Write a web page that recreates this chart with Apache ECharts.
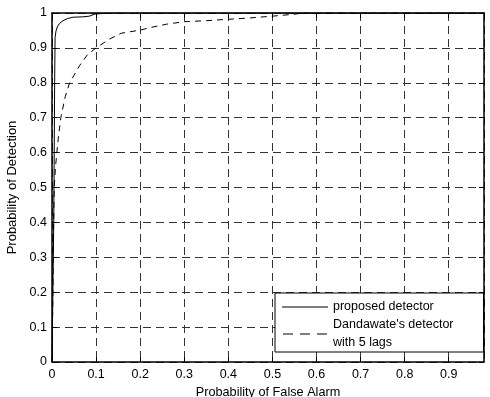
<!DOCTYPE html>
<html>
<head>
<meta charset="utf-8">
<script src="https://cdn.jsdelivr.net/npm/echarts@6/dist/echarts.min.js"></script>
<style>html,body{margin:0;padding:0;background:#fff;}#c{width:490px;height:397px;}</style>
</head>
<body>
<div id="c"></div>
<script>
var proposedPfa = [0, 0.001, 0.002, 0.004, 0.005, 0.006, 0.007, 0.009, 0.012, 0.017, 0.025, 0.035, 0.048, 0.07, 0.085, 0.097, 0.12, 0.15, 0.98];
var proposedPd  = [0, 0.1, 0.2, 0.4, 0.6, 0.8, 0.93, 0.948, 0.96, 0.97, 0.978, 0.984, 0.988, 0.989, 0.991, 0.997, 0.999, 1, 1];
var dandawatePfa = [0, 0.001, 0.002, 0.003, 0.005, 0.008, 0.011, 0.015, 0.02, 0.03, 0.04, 0.063, 0.08, 0.1, 0.13, 0.157, 0.2, 0.222, 0.26, 0.3, 0.35, 0.4, 0.45, 0.5, 0.546, 0.57, 0.98];
var dandawatePd  = [0, 0.1, 0.2, 0.35, 0.5, 0.56, 0.6, 0.65, 0.7, 0.76, 0.8, 0.85, 0.88, 0.9, 0.925, 0.942, 0.951, 0.958, 0.968, 0.975, 0.978, 0.982, 0.986, 0.991, 0.996, 1, 1];
var seriesNames = ["proposed detector", "Dandawate's detector\nwith 5 lags"];
var xTicks = [0, 0.1, 0.2, 0.3, 0.4, 0.5, 0.6, 0.7, 0.8, 0.9];
var yTicks = [0, 0.1, 0.2, 0.3, 0.4, 0.5, 0.6, 0.7, 0.8, 0.9, 1];

function zip(a, b) { return a.map(function (v, i) { return [v, b[i]]; }); }
var font = 'Liberation Sans, Arial, sans-serif';
function fmt(v) { return String(Math.round(v * 10) / 10); }

var chart = echarts.init(document.getElementById('c'), null, {renderer: 'canvas'});
var baseX = {
  type: 'value', min: 0, max: 0.98, interval: 0.1,
  axisLine: {show: true, onZero: false, lineStyle: {color: '#000', width: 1.5}},
  axisTick: {show: true, inside: true, length: 5, lineStyle: {color: '#000'}},
};
var baseY = {
  type: 'value', min: 0, max: 1, interval: 0.1,
  axisLine: {show: true, onZero: false, lineStyle: {color: '#000', width: 1.5}},
  axisTick: {show: true, inside: true, length: 5, lineStyle: {color: '#000'}},
};
var solidIcon = 'path://M0,0h46v1h-46z';
var dashedIcon = 'path://M0,0h10v1h-10zM17,0h10v1h-10zM34,0h10v1h-10z';
chart.setOption({
  animation: false,
  backgroundColor: '#fff',
  grid: {left: 52, right: 6, top: 13, bottom: 35, containLabel: false, outerBoundsMode: 'none'},
  xAxis: [
    Object.assign({}, baseX, {
      position: 'bottom',
      name: 'Probability of False Alarm', nameLocation: 'middle', nameGap: 21,
      nameTextStyle: {color: '#000', fontFamily: font, fontSize: 12.7},
      axisLabel: {color: '#000', fontFamily: font, fontSize: 12.5, margin: 6, showMaxLabel: false, formatter: fmt},
      splitLine: {show: true, lineStyle: {color: '#333', type: [8, 5], width: 1}}
    }),
    Object.assign({}, baseX, {
      position: 'top', axisLabel: {show: false}, splitLine: {show: false}
    })
  ],
  yAxis: [
    Object.assign({}, baseY, {
      position: 'left',
      name: 'Probability of Detection', nameLocation: 'middle', nameGap: 27,
      nameTextStyle: {color: '#000', fontFamily: font, fontSize: 13},
      axisLabel: {color: '#000', fontFamily: font, fontSize: 12.5, margin: 5, formatter: fmt},
      splitLine: {show: true, lineStyle: {color: '#333', type: [8, 5], width: 1}}
    }),
    Object.assign({}, baseY, {
      position: 'right', axisLabel: {show: false}, splitLine: {show: false}
    })
  ],
  legend: {
    left: 275, top: 293, orient: 'vertical',
    backgroundColor: '#fff', borderColor: '#000', borderWidth: 1,
    padding: [5, 30, 0, 7], itemGap: 0, itemWidth: 46, itemHeight: 1,
    itemStyle: {color: '#000', borderWidth: 0},
    textStyle: {color: '#000', fontFamily: font, fontSize: 12.5, lineHeight: 18},
    data: [{name: seriesNames[0], icon: solidIcon}, {name: seriesNames[1], icon: dashedIcon}]
  },
  series: [
    {
      name: seriesNames[0], type: 'line', data: zip(proposedPfa, proposedPd),
      symbol: 'none', smooth: false,
      lineStyle: {color: '#000', width: 1, type: 'solid'}, itemStyle: {color: '#000'}
    },
    {
      name: seriesNames[1], type: 'line', data: zip(dandawatePfa, dandawatePd),
      symbol: 'none', smooth: false,
      lineStyle: {color: '#000', width: 1, type: [6, 5]}, itemStyle: {color: '#000'}
    }
  ]
});
</script>
</body>
</html>
